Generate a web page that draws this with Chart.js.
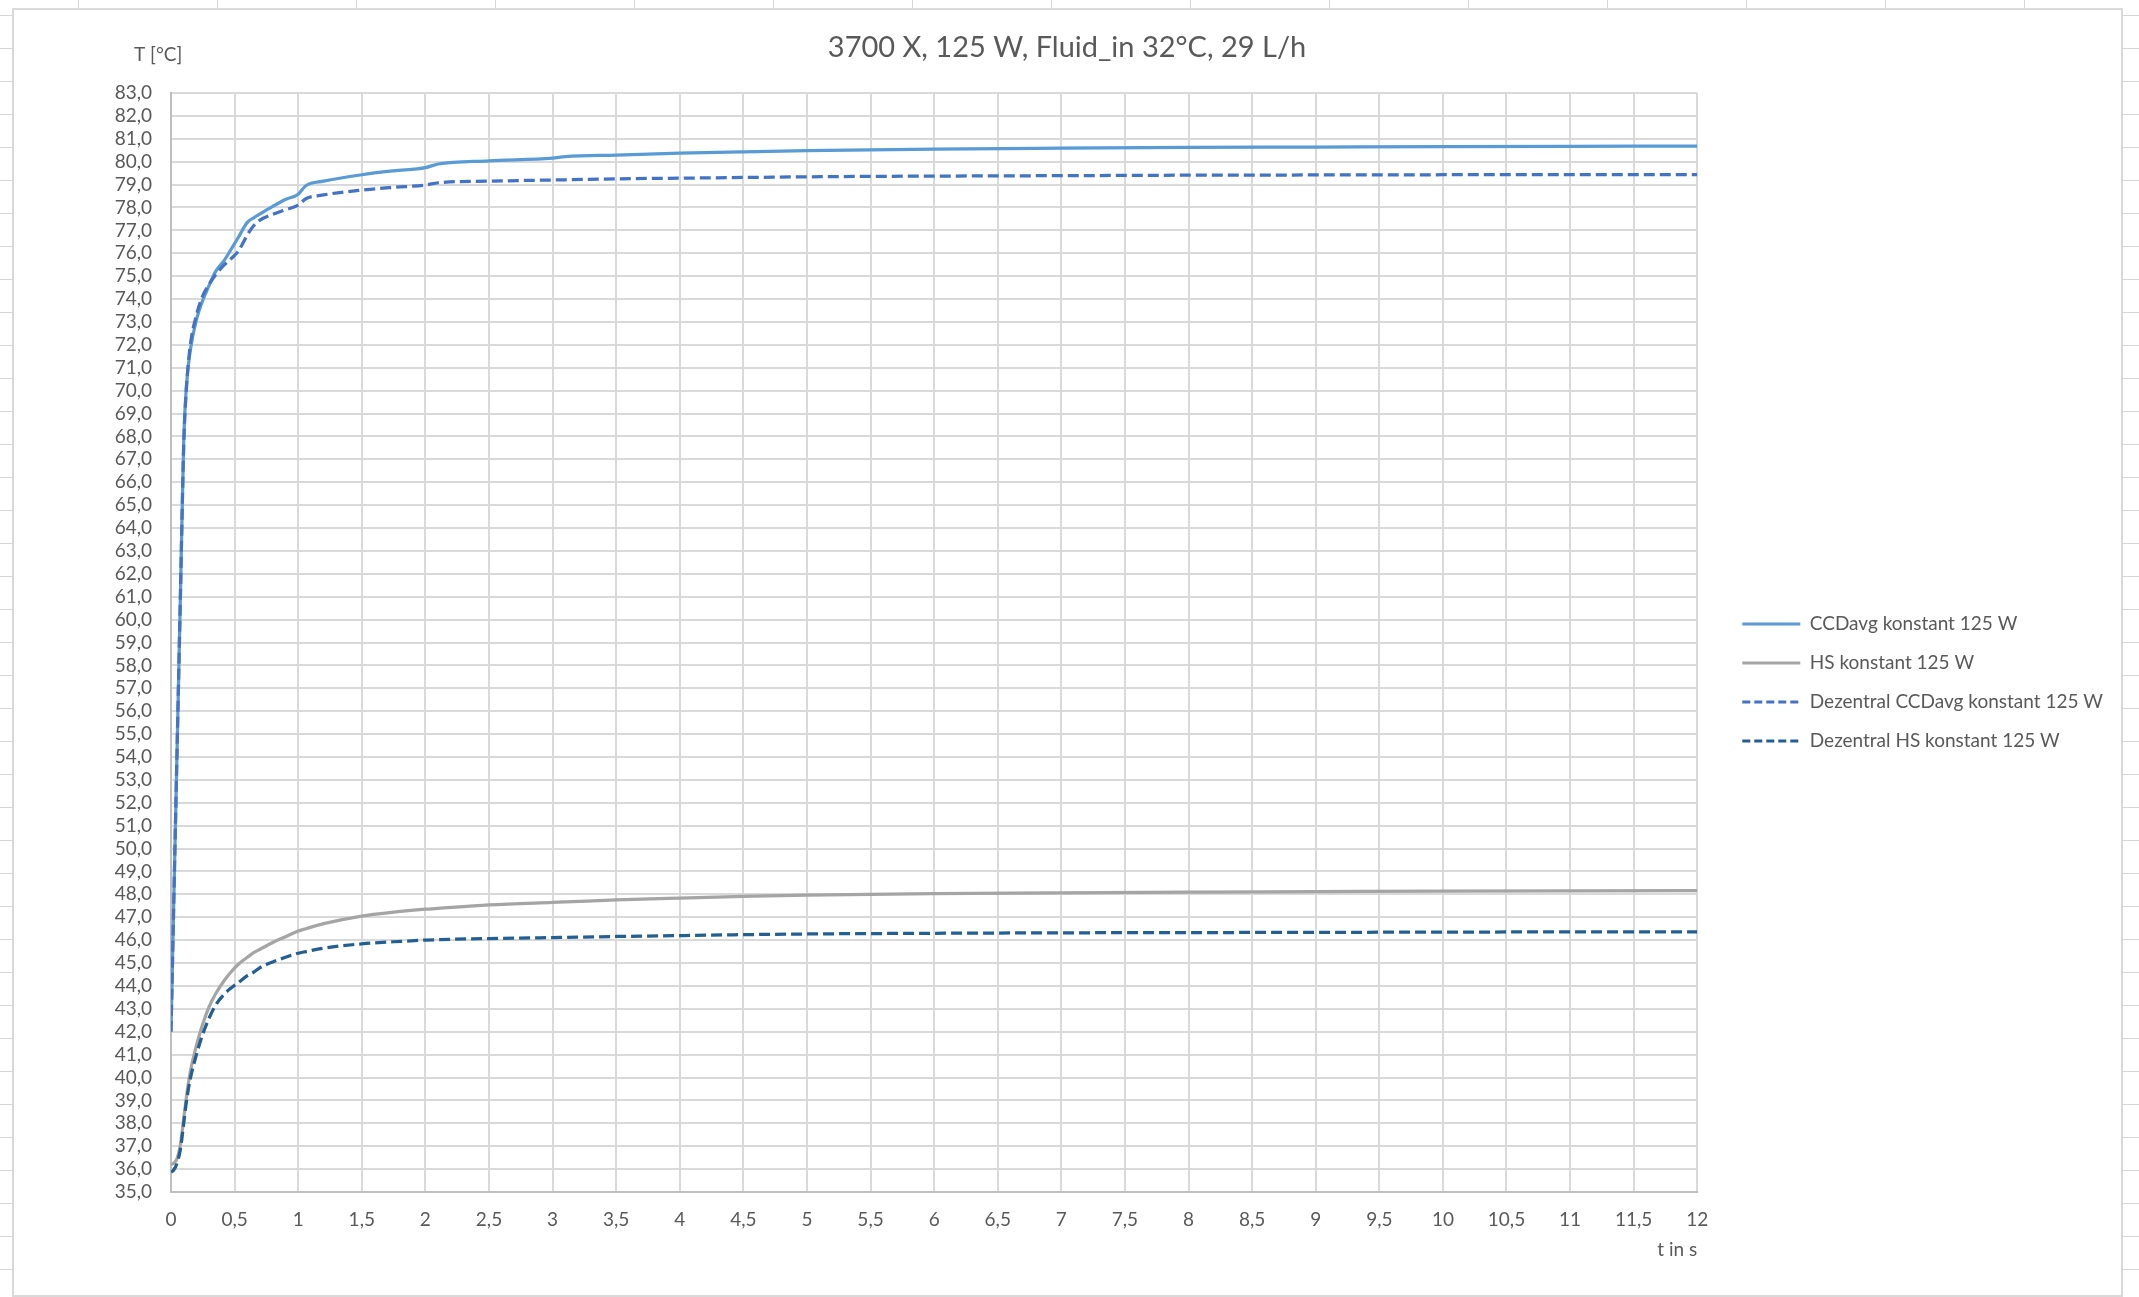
<!DOCTYPE html>
<html>
<head>
<meta charset="utf-8">
<title>3700 X, 125 W, Fluid_in 32°C, 29 L/h</title>
<script src="https://cdn.jsdelivr.net/npm/chart.js@4.4.0/dist/chart.umd.min.js"></script>
<style>
  html, body { margin: 0; padding: 0; }
  body {
    width: 2139px;
    height: 1297px;
    overflow: hidden;
    position: relative;
    background-color: #fff;
    /* spreadsheet cells behind the chart */
    background-image: linear-gradient(to right, #d6d6d6 1px, transparent 1px),
                      linear-gradient(to bottom, #d6d6d6 1px, transparent 1px);
    background-size: 139px 100%, 100% 33px;
    background-position: 78px 0, 0 15px;
  }
  #chartBox {
    position: absolute;
    left: 12px;
    top: 8px;
    width: 2111px;
    height: 1289px;
    box-sizing: border-box;
    border: 2px solid #d9d9d9;
    background: #fff;
  }
  #js--chart { position: absolute; left: 0; top: 0; }
</style>
</head>
<body>
<div id="chartBox"></div>
<canvas id="js--chart" width="2139" height="1297"></canvas>
<script>
const chartTitle = "3700 X, 125 W, Fluid_in 32°C, 29 L/h";
const yLabel = "T [°C]";
const xLabel = "t in s";

const seriesNames = [
  "CCDavg konstant 125 W",
  "HS konstant 125 W",
  "Dezentral CCDavg konstant 125 W",
  "Dezentral HS konstant 125 W"
];

// time in s
const time = [0, 0.02, 0.05, 0.075, 0.1, 0.12, 0.15, 0.2, 0.25, 0.3,
  0.35, 0.42, 0.47, 0.53, 0.6, 0.65, 0.7, 0.8, 0.9, 1.0,
  1.06, 1.2, 1.5, 1.75, 2.0, 2.1, 2.5, 3.0, 3.1, 3.5,
  4, 4.5, 5, 6, 7, 8, 9, 10, 11, 12];

// temperatures in °C
const ccdAvg = [42.0, 47.2, 54.9, 61.3, 67.8, 70.1, 71.7, 73.1, 73.95, 74.6,
  75.2, 75.7, 76.15, 76.7, 77.35, 77.55, 77.72, 78.05, 78.35, 78.58,
  78.95, 79.15, 79.43, 79.6, 79.74, 79.9, 80.04, 80.16, 80.22, 80.29,
  80.37, 80.43, 80.48, 80.55, 80.59, 80.62, 80.64, 80.66, 80.67, 80.68];

const hs = [36.2, 36.25, 36.5, 37.1, 38.2, 39.1, 40.2, 41.4, 42.35, 43.1,
  43.65, 44.25, 44.6, 44.95, 45.25, 45.45, 45.6, 45.9, 46.15, 46.4,
  46.5, 46.72, 47.05, 47.22, 47.35, 47.39, 47.54, 47.65, 47.67, 47.76,
  47.84, 47.91, 47.97, 48.03, 48.07, 48.1, 48.12, 48.14, 48.15, 48.16];

const dzCcdAvg = [42.0, 47.2, 54.9, 61.3, 67.6, 70.0, 71.9, 73.3, 74.15, 74.65,
  75.05, 75.5, 75.75, 76.1, 76.8, 77.2, 77.45, 77.7, 77.9, 78.1,
  78.38, 78.55, 78.76, 78.88, 78.98, 79.08, 79.15, 79.2, 79.21, 79.25,
  79.28, 79.31, 79.34, 79.37, 79.39, 79.41, 79.42, 79.43, 79.44, 79.44];

const dzHs = [35.87, 35.95, 36.3, 36.9, 38.0, 38.9, 39.9, 41.0, 41.9, 42.6,
  43.15, 43.65, 43.9, 44.15, 44.45, 44.6, 44.8, 45.05, 45.25, 45.43,
  45.5, 45.65, 45.84, 45.93, 46.0, 46.02, 46.07, 46.11, 46.12, 46.16,
  46.2, 46.24, 46.27, 46.3, 46.32, 46.33, 46.34, 46.35, 46.36, 46.36];

const xMin = 0, xMax = 12, xStep = 0.5;
const yMin = 35, yMax = 83, yStep = 1;

const textColor = "#595959";
const fontName = "Lato, 'Open Sans', sans-serif";

function points(values) {
  return values.map(function(v, i) {
    return { x: time[i], y: v };
  });
}

function commaNumber(v, digits) {
  return (digits === undefined ? String(v) : v.toFixed(digits)).replace(".", ",");
}

// y label on top of the axis and the legend offset, the way excel puts them
const excelBits = {
  id: "excelBits",
  afterLayout(chart) {
    chart.legend.left += 25;
    chart.legend.right += 25;
    chart.legend.top += 34;
    chart.legend.bottom += 34;
  },
  afterDraw(chart) {
    const ctx = chart.ctx;
    ctx.save();
    ctx.font = "19px " + fontName;
    ctx.fillStyle = textColor;
    ctx.textBaseline = "middle";
    ctx.textAlign = "left";
    ctx.fillText(yLabel, chart.chartArea.left - 37, chart.chartArea.top - 38);
    ctx.restore();
  }
};

const datasets = [
  {
    label: seriesNames[0],
    data: points(ccdAvg),
    borderColor: "#5B9BD5",
    order: 4
  },
  {
    label: seriesNames[1],
    data: points(hs),
    borderColor: "#A5A5A5",
    order: 3
  },
  {
    label: seriesNames[2],
    data: points(dzCcdAvg),
    borderColor: "#4472C4",
    borderDash: [11, 5],
    order: 2
  },
  {
    label: seriesNames[3],
    data: points(dzHs),
    borderColor: "#255E91",
    borderDash: [11, 5],
    order: 1
  }
];

datasets.forEach(function(ds) {
  ds.borderWidth = 3.25;
  ds.pointRadius = 0;
  ds.fill = false;
  ds.cubicInterpolationMode = "monotone";
  ds.backgroundColor = ds.borderColor;
});

const chart = new Chart(document.getElementById("js--chart"), {
  type: "line",
  data: { datasets: datasets },
  options: {
    responsive: false,
    animation: false,
    layout: { padding: { left: 46, top: 0, right: 51, bottom: 0 } },
    plugins: {
      title: {
        display: true,
        text: chartTitle,
        color: textColor,
        font: { family: fontName, size: 29, weight: "normal" },
        padding: { top: 30, bottom: 28.2 }
      },
      legend: {
        position: "right",
        labels: {
          usePointStyle: true,
          pointStyle: "line",
          pointStyleWidth: 58,
          padding: 20,
          color: textColor,
          font: { family: fontName, size: 19 },
          generateLabels: function(chart) {
            const items = Chart.defaults.plugins.legend.labels.generateLabels(chart);
            items.forEach(function(item) {
              const ds = chart.data.datasets[item.datasetIndex];
              item.strokeStyle = ds.borderColor;
              item.lineWidth = 3;
              item.lineDash = ds.borderDash ? [8, 4] : [];
            });
            return items;
          },
          sort: function(a, b) { return a.datasetIndex - b.datasetIndex; }
        }
      },
      tooltip: { enabled: false }
    },
    scales: {
      x: {
        type: "linear",
        min: xMin,
        max: xMax,
        afterFit: function(scale) { scale.height = 105; },
        ticks: {
          stepSize: xStep,
          autoSkip: false,
          maxRotation: 0,
          padding: 16,
          color: textColor,
          font: { family: fontName, size: 19 },
          callback: function(v) { return commaNumber(v); }
        },
        grid: { color: "#D9D9D9", lineWidth: 2, drawTicks: false },
        border: { color: "#BFBFBF", width: 2 },
        title: {
          display: true,
          text: xLabel,
          align: "end",
          color: textColor,
          font: { family: fontName, size: 19 },
          padding: { top: 0, bottom: 36 }
        }
      },
      y: {
        min: yMin,
        max: yMax,
        afterFit: function(scale) { scale.width = 125; },
        ticks: {
          stepSize: yStep,
          autoSkip: false,
          padding: 19,
          color: textColor,
          font: { family: fontName, size: 19 },
          callback: function(v) { return commaNumber(v, 1); }
        },
        grid: { color: "#D9D9D9", lineWidth: 2, drawTicks: false },
        border: { color: "#BFBFBF", width: 2 }
      }
    }
  },
  plugins: [excelBits]
});
</script>
</body>
</html>
